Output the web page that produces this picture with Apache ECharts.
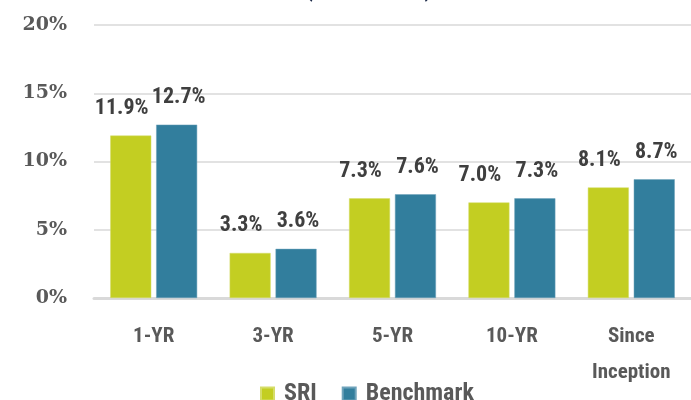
<!DOCTYPE html>
<html>
<head>
<meta charset="utf-8">
<script src="https://cdn.jsdelivr.net/npm/echarts@6/dist/echarts.min.js"></script>
<style>
  html, body { margin: 0; padding: 0; background: #fff; }
  #chart { width: 691px; height: 400px; }
</style>
</head>
<body>
<div id="chart"></div>
<script>
// periods and returns (%)
const categories = ['1-YR', '3-YR', '5-YR', '10-YR', 'Since\nInception'];
const sriValues = [11.9, 3.3, 7.3, 7.0, 8.1];
const benchmarkValues = [12.7, 3.6, 7.6, 7.3, 8.7];
const yTicks = [0, 5, 10, 15, 20];

const narrow = '"Roboto Condensed", "Liberation Sans Narrow", sans-serif';
const slab = '"DejaVu Serif", serif';

function barLabel(dx) {
  return {
    show: true,
    position: 'top',
    distance: 16,
    offset: [dx, 0],
    fontFamily: narrow,
    fontWeight: 'bold',
    fontSize: 22,
    color: '#3f3f3f',
    formatter: p => p.value.toFixed(1) + '%'
  };
}

const chart = echarts.init(document.getElementById('chart'));
chart.setOption({
  animation: false,
  title: {
    text: '(Annualized)',
    left: 300,
    top: -28,
    textStyle: { fontFamily: narrow, fontWeight: 'bold', fontSize: 25, color: '#1c2a48' }
  },
  legend: {
    top: 377,
    left: 255,
    itemWidth: 13,
    itemHeight: 13,
    itemGap: 25,
    icon: 'rect',
    textStyle: { fontFamily: narrow, fontWeight: 'bold', fontSize: 24, color: '#595959', padding: [0, 0, 0, 5] },
    data: ['SRI', 'Benchmark']
  },
  grid: { left: 94, right: 0, top: 25, bottom: 102 },
  xAxis: {
    type: 'category',
    data: categories,
    axisLine: { lineStyle: { color: '#d9d9d9', width: 3 } },
    axisTick: { show: false },
    axisLabel: {
      interval: 0,
      margin: 21,
      fontFamily: narrow,
      fontWeight: 'bold',
      fontSize: 21,
      lineHeight: 36,
      color: '#595959'
    }
  },
  yAxis: {
    type: 'value',
    min: yTicks[0],
    max: yTicks[yTicks.length - 1],
    interval: 5,
    axisLine: { show: false },
    axisTick: { show: false },
    splitLine: { lineStyle: { color: '#d9d9d9', width: 1.5 } },
    axisLabel: {
      margin: 27,
      fontFamily: slab,
      fontWeight: 'bold',
      fontSize: 19,
      color: '#595959',
      formatter: v => v + '%'
    }
  },
  series: [
    {
      name: 'SRI',
      type: 'bar',
      data: sriValues,
      barWidth: 41,
      barGap: '12%',
      itemStyle: { color: '#c3ce22', borderColor: '#d5dd6a', borderWidth: 0.5 },
      label: barLabel(-9)
    },
    {
      name: 'Benchmark',
      type: 'bar',
      data: benchmarkValues,
      barWidth: 41,
      itemStyle: { color: '#327e9d', borderColor: '#6fa3bb', borderWidth: 0.5 },
      label: barLabel(2)
    }
  ]
});
</script>
</body>
</html>
